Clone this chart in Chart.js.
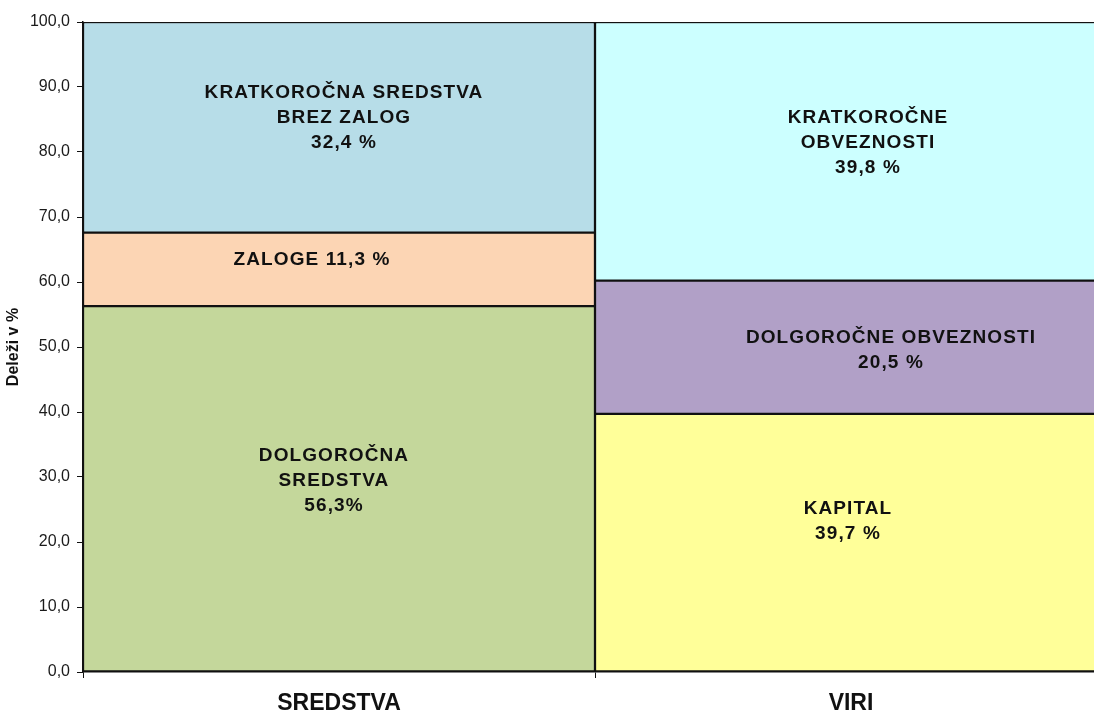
<!DOCTYPE html>
<html>
<head>
<meta charset="utf-8">
<script src="https://cdn.jsdelivr.net/npm/chart.js@4"></script>
<style>
  html, body { margin: 0; padding: 0; background: #fff; overflow: hidden; }
  #wrap { width: 1107px; height: 716px; position: relative; }
</style>
</head>
<body>
<div id="wrap"><canvas id="chart"></canvas></div>
<script>
// --- data
const categories = ["SREDSTVA", "VIRI"];
const segmentBar = [0, 0, 0, 1, 1, 1];
const segmentValues = [56.3, 11.3, 32.4, 39.7, 20.5, 39.8];
const segmentLabels = [
  ["DOLGOROČNA", "SREDSTVA", "56,3%"],
  ["ZALOGE 11,3 %"],
  ["KRATKOROČNA SREDSTVA", "BREZ ZALOG", "32,4 %"],
  ["KAPITAL", "39,7 %"],
  ["DOLGOROČNE OBVEZNOSTI", "20,5 %"],
  ["KRATKOROČNE", "OBVEZNOSTI", "39,8 %"]
];
const yTicks = [0, 10, 20, 30, 40, 50, 60, 70, 80, 90, 100];

const segmentColors = ["#c4d79b", "#fcd5b4", "#b7dde8", "#ffff99", "#b1a0c7", "#ccffff"];
// small nudges so the text sits roughly where Excel put it
const labelNudge = [[-5, -8], [-27, -10], [5, -10], [-3, -21], [40, 3], [17, -9]];

const datasets = segmentValues.map((v, i) => ({
  label: segmentLabels[i].join(" "),
  data: categories.map((c, j) => (j === segmentBar[i] ? v : null)),
  backgroundColor: segmentColors[i],
  borderColor: "#111",
  borderWidth: 1.5,
  borderSkipped: false,
  barPercentage: 1,
  categoryPercentage: 1
}));

const segmentText = {
  id: "segmentText",
  afterDatasetsDraw(chart) {
    const ctx = chart.ctx;
    ctx.save();
    ctx.fillStyle = "#111";
    ctx.font = "bold 19px 'Liberation Sans', Arial, sans-serif";
    ctx.letterSpacing = "1.1px";
    ctx.textAlign = "center";
    ctx.textBaseline = "middle";
    segmentValues.forEach((v, i) => {
      const bar = chart.getDatasetMeta(i).data[segmentBar[i]];
      if (!bar) return;
      const lines = segmentLabels[i];
      const lh = 25;
      const cx = bar.x + labelNudge[i][0];
      const cy = (bar.y + bar.base) / 2 + labelNudge[i][1];
      lines.forEach((t, k) => {
        ctx.fillText(t, cx, cy + (k - (lines.length - 1) / 2) * lh);
      });
    });
    ctx.restore();
  }
};

new Chart(document.getElementById("chart"), {
  type: "bar",
  data: { labels: categories, datasets },
  options: {
    responsive: true,
    maintainAspectRatio: false,
    animation: false,
    layout: { padding: { top: 22, right: 0, left: 4, bottom: 0 } },
    plugins: {
      legend: { display: false },
      tooltip: { enabled: false }
    },
    scales: {
      x: {
        stacked: true,
        grid: { offset: true, drawOnChartArea: false, drawTicks: true, tickLength: 6, color: "#111" },
        border: { color: "#111", width: 1.5 },
        ticks: {
          color: "#111",
          padding: 12,
          font: { family: "'Liberation Sans', Arial, sans-serif", size: 23, weight: "bold" }
        },
        afterFit(scale) { scale.height = 44; }
      },
      y: {
        stacked: true,
        min: 0,
        max: 100,
        afterBuildTicks(scale) { scale.ticks = yTicks.map(v => ({ value: v })); },
        grid: { drawOnChartArea: false, drawTicks: true, tickLength: 6, color: "#111" },
        border: { color: "#111", width: 1.5 },
        ticks: {
          color: "#1a1a1a",
          padding: 7,
          font: { family: "'Liberation Sans', Arial, sans-serif", size: 16 },
          callback: v => v.toFixed(1).replace(".", ",")
        },
        title: {
          display: true,
          text: "Deleži v %",
          color: "#111",
          padding: 0,
          font: { family: "'Liberation Sans', Arial, sans-serif", size: 16, weight: "bold" }
        },
        afterFit(scale) { scale.width = 79; }
      }
    }
  },
  plugins: [segmentText]
});
</script>
</body>
</html>
